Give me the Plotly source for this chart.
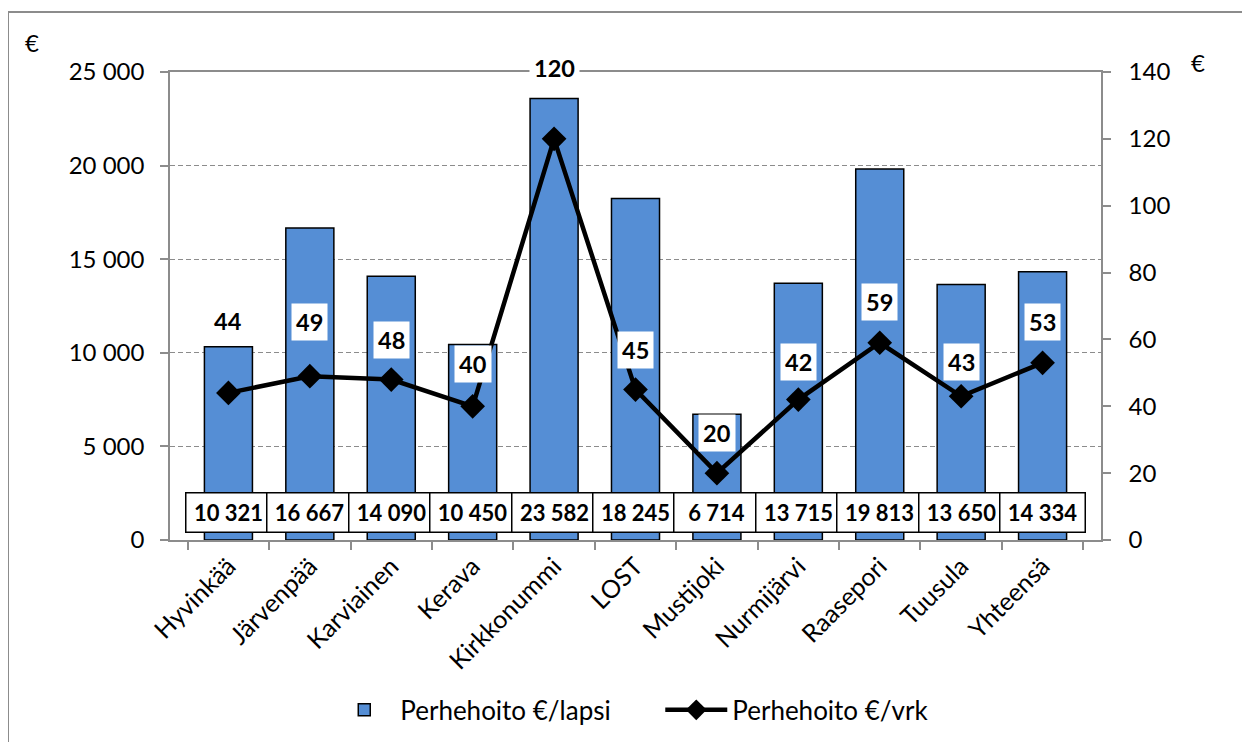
import plotly.graph_objects as go

categories = ["Hyvinkää", "Järvenpää", "Karviainen", "Kerava", "Kirkkonummi", "LOST",
              "Mustijoki", "Nurmijärvi", "Raasepori", "Tuusula", "Yhteensä"]
lapsi_values = [10321, 16667, 14090, 10450, 23582, 18245, 6714, 13715, 19813, 13650, 14334]
vrk_values = [44, 49, 48, 40, 120, 45, 20, 42, 59, 43, 53]
left_ticks = [0, 5000, 10000, 15000, 20000, 25000]
right_ticks = [0, 20, 40, 60, 80, 100, 120, 140]

# label placement (pixel offsets above each point), style only
vrk_label_dy = [72, 54, 40, 42, 71, 40, 40, 38, 41, 34, 41]

FONT = "Lato"
FS = 23.5
BLUE = "#558ED5"
GRID = "#8c8c8c"


def fmt(v):
    return f"{v:,}".replace(",", " ")


fig = go.Figure()
fig.add_trace(go.Bar(
    x=categories, y=lapsi_values, name="Perhehoito €/lapsi",
    marker=dict(color=BLUE, line=dict(color="black", width=1.5)),
    width=0.59,
))
fig.add_trace(go.Scatter(
    x=categories, y=vrk_values, name="Perhehoito €/vrk", yaxis="y2",
    mode="lines+markers",
    line=dict(color="black", width=4.5),
    marker=dict(symbol="diamond", size=19, color="black"),
))

annotations = []
for c, v in zip(categories, lapsi_values):
    annotations.append(dict(
        x=c, y=0.0598, xref="x", yref="paper", text=f"<b>{fmt(v)}</b>",
        showarrow=False, font=dict(family=FONT, size=22, color="black"),
        bgcolor="white", bordercolor="black", borderwidth=1.5, borderpad=4,
        width=76, height=30, xanchor="center", yanchor="middle",
    ))
for c, v, dy in zip(categories, vrk_values, vrk_label_dy):
    annotations.append(dict(
        x=c, y=v, xref="x", yref="y2", text=f"<b>{v}</b>",
        showarrow=False, font=dict(family=FONT, size=FS, color="black"),
        bgcolor="white", borderpad=4, yshift=dy,
        xanchor="center", yanchor="middle",
    ))
annotations.append(dict(x=-0.148, y=1.064, xref="paper", yref="paper", text="€",
                        showarrow=False, font=dict(family=FONT, size=24, color="black"),
                        xanchor="center", yanchor="middle"))
annotations.append(dict(x=1.104, y=1.02, xref="paper", yref="paper", text="€",
                        showarrow=False, font=dict(family=FONT, size=24, color="black"),
                        xanchor="center", yanchor="middle"))

fig.update_layout(
    width=1242, height=734,
    margin=dict(l=162, r=149, t=64, b=202, autoexpand=False),
    paper_bgcolor="white", plot_bgcolor="white",
    font=dict(family=FONT, size=FS, color="black"),
    separators=", ",
    bargap=0.41,
    showlegend=True,
    legend=dict(orientation="h", x=0.170, xanchor="left", y=-0.363, yanchor="middle",
                font=dict(family=FONT, size=26, color="black"), itemwidth=62,
                entrywidth=255, entrywidthmode="pixels",
                traceorder="normal"),
    xaxis=dict(
        tickangle=-45, ticks="outside", ticklen=8, tickcolor=GRID, tickwidth=1.5,
        tickson="boundaries", showline=True, linecolor=GRID, linewidth=1.5,
        mirror=True, showgrid=False, tickfont=dict(family=FONT, size=25),
        automargin=False,
    ),
    yaxis=dict(
        range=[0, 25000], tickvals=left_ticks, tickformat=",d",
        ticks="outside", ticklen=8, tickcolor=GRID, tickwidth=1.5,
        showline=True, linecolor=GRID, linewidth=1.5,
        showgrid=True, gridcolor=GRID, griddash="5px,3px", gridwidth=1,
        zeroline=False, ticklabelstandoff=11, tickfont=dict(family=FONT, size=24),
        automargin=False,
    ),
    yaxis2=dict(
        range=[0, 140], tickvals=right_ticks, overlaying="y", side="right",
        ticks="outside", ticklen=8, tickcolor=GRID, tickwidth=1.5,
        showline=True, linecolor=GRID, linewidth=1.5, showgrid=False,
        zeroline=False, ticklabelstandoff=13, tickfont=dict(family=FONT, size=24),
        automargin=False,
    ),
    annotations=annotations,
    shapes=[dict(type="rect", xref="paper", yref="paper",
                 x0=-0.174, x1=1.2, y0=-0.5, y1=1.128,
                 line=dict(color="#8c8c8c", width=2), fillcolor="rgba(0,0,0,0)",
                 layer="above")],
)

fig.write_html("out.html")
